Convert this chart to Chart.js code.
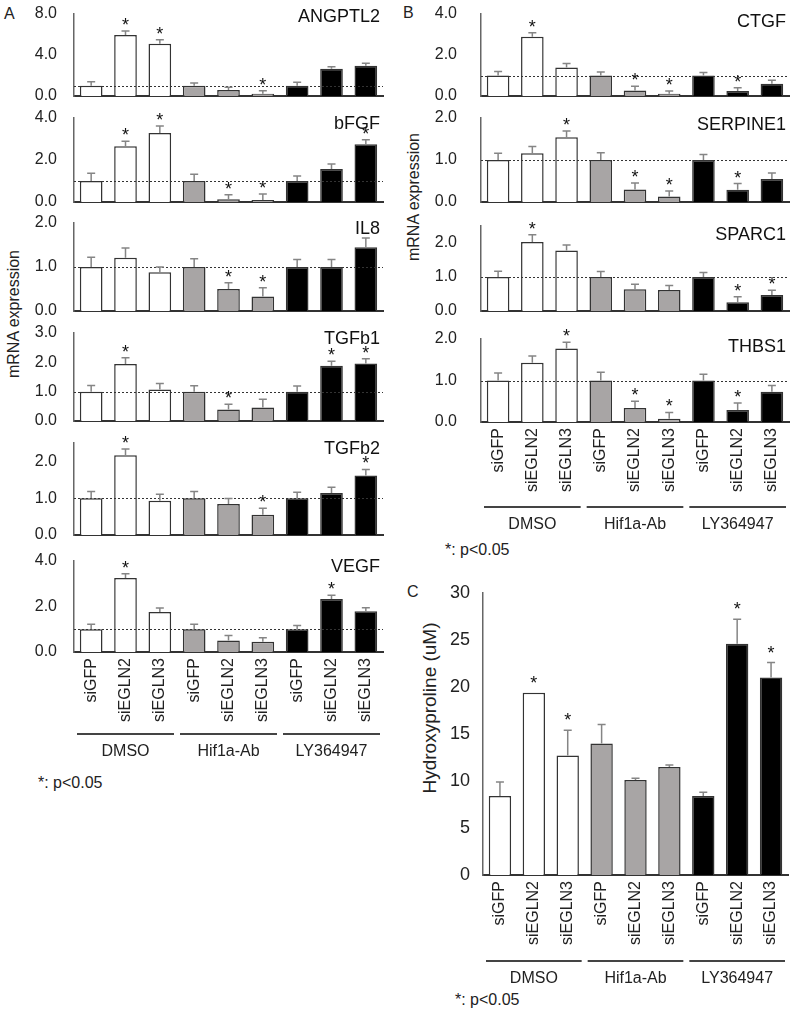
<!DOCTYPE html>
<html lang="en">
<head>
<meta charset="UTF-8">
<title>mRNA expression / Hydroxyproline</title>
<script src="https://cdn.jsdelivr.net/npm/chart.js"></script>
<style>
  body { margin: 0; background: #fff; }
  #page { position: relative; width: 800px; height: 1015px; overflow: hidden;
          font-family: "Liberation Sans", Arial, sans-serif; color: #222; }
  #page canvas { position: absolute; }
  .txt { position: absolute; font-size: 16px; line-height: 18px; white-space: nowrap; }
  .rot { transform: translate(-50%, -50%) rotate(-90deg); }
</style>
</head>
<body>
<div id="page">
  <div class="txt" style="left:4px;top:5px">A</div>
  <div class="txt" style="left:403px;top:4px">B</div>
  <div class="txt" style="left:407px;top:583px">C</div>
  <div class="txt rot" style="left:14px;top:314px">mRNA expression</div>
  <div class="txt rot" style="left:414px;top:197px">mRNA expression</div>
  <div class="txt rot" style="left:430px;top:708px;font-size:19px;line-height:22px">Hydroxyproline (uM)</div>
  <div class="txt" style="left:38px;top:774px">*: p&lt;0.05</div>
  <div class="txt" style="left:445px;top:541px">*: p&lt;0.05</div>
  <div class="txt" style="left:455px;top:991px">*: p&lt;0.05</div>
</div>

<script>
// conditions and treatment groups
const conditions = ['siGFP', 'siEGLN2', 'siEGLN3', 'siGFP', 'siEGLN2', 'siEGLN3', 'siGFP', 'siEGLN2', 'siEGLN3'];
const groups = ['DMSO', 'Hif1a-Ab', 'LY364947'];
const barFill = ['#ffffff', '#ffffff', '#ffffff', '#a8a5a5', '#a8a5a5', '#a8a5a5', '#000000', '#000000', '#000000'];

// panel A (mean, upper SD, significance)
const ANGPTL2 = [1.0, 5.95, 5.1, 1.0, 0.59, 0.23, 1.0, 2.67, 2.96];
const ANGPTL2_SD = [0.4, 0.4, 0.4, 0.27, 0.26, 0.29, 0.33, 0.19, 0.23];
const ANGPTL2_SIG = [0, 1, 1, 0, 0, 1, 0, 0, 0];

const bFGF = [1.0, 2.65, 3.29, 1.0, 0.13, 0.1, 1.0, 1.57, 2.75];
const bFGF_SD = [0.37, 0.24, 0.33, 0.32, 0.22, 0.28, 0.24, 0.24, 0.22];
const bFGF_SIG = [0, 1, 1, 0, 1, 1, 0, 0, 1];

const IL8 = [1.0, 1.21, 0.88, 1.0, 0.5, 0.33, 1.0, 1.0, 1.45];
const IL8_SD = [0.22, 0.22, 0.12, 0.19, 0.14, 0.2, 0.17, 0.17, 0.21];
const IL8_SIG = [0, 0, 0, 0, 1, 1, 0, 0, 0];

const TGFb1 = [1.0, 1.94, 1.07, 1.0, 0.39, 0.46, 1.0, 1.88, 1.96];
const TGFb1_SD = [0.21, 0.22, 0.21, 0.2, 0.18, 0.28, 0.19, 0.16, 0.16];
const TGFb1_SIG = [0, 1, 0, 0, 1, 0, 0, 1, 1];

const TGFb2 = [1.0, 2.17, 0.93, 1.0, 0.84, 0.55, 1.0, 1.14, 1.62];
const TGFb2_SD = [0.18, 0.17, 0.18, 0.18, 0.15, 0.18, 0.16, 0.16, 0.16];
const TGFb2_SIG = [0, 1, 0, 0, 0, 1, 0, 0, 1];

const VEGF = [1.0, 3.25, 1.76, 1.0, 0.51, 0.45, 1.0, 2.33, 1.79];
const VEGF_SD = [0.22, 0.19, 0.17, 0.22, 0.21, 0.18, 0.17, 0.16, 0.16];
const VEGF_SIG = [0, 1, 0, 0, 0, 0, 0, 1, 0];

// panel B
const CTGF = [1.0, 2.89, 1.39, 1.0, 0.27, 0.11, 1.0, 0.24, 0.6];
const CTGF_SD = [0.19, 0.19, 0.19, 0.17, 0.2, 0.13, 0.15, 0.16, 0.17];
const CTGF_SIG = [0, 1, 0, 0, 1, 1, 0, 1, 0];

const SERPINE1 = [1.0, 1.16, 1.54, 1.0, 0.3, 0.13, 1.0, 0.29, 0.55];
const SERPINE1_SD = [0.16, 0.16, 0.15, 0.17, 0.15, 0.13, 0.13, 0.15, 0.14];
const SERPINE1_SIG = [0, 0, 1, 0, 1, 1, 0, 1, 0];

const SPARC1 = [1.0, 2.03, 1.78, 1.0, 0.64, 0.62, 1.0, 0.26, 0.47];
const SPARC1_SD = [0.17, 0.21, 0.16, 0.16, 0.15, 0.13, 0.13, 0.16, 0.14];
const SPARC1_SIG = [0, 1, 0, 0, 0, 0, 0, 1, 1];

const THBS1 = [1.0, 1.43, 1.77, 1.0, 0.34, 0.08, 1.0, 0.29, 0.73];
const THBS1_SD = [0.18, 0.16, 0.15, 0.2, 0.16, 0.15, 0.15, 0.17, 0.15];
const THBS1_SIG = [0, 0, 1, 0, 1, 1, 0, 1, 0];

// panel C
const hydroxyproline = [8.4, 19.4, 12.7, 14.0, 10.1, 11.5, 8.4, 24.6, 21.0];
const hydroxyproline_SD = [1.5, 0, 2.7, 2.0, 0.2, 0.2, 0.4, 2.6, 1.6];
const hydroxyproline_SIG = [0, 1, 1, 0, 0, 0, 0, 1, 1];

const FONT = '"Liberation Sans", Arial, sans-serif';

// error bars, stars, dotted 1.0 line, gene name, group bars
const extras = {
    id: 'extras',
    afterDatasetsDraw(chart, args, o) {
        const ctx = chart.ctx, ys = chart.scales.y, a = chart.chartArea;
        const meta = chart.getDatasetMeta(0);
        ctx.save();
        if (o.refLine != null) {
            const y = Math.round(ys.getPixelForValue(o.refLine)) + 0.5;
            ctx.strokeStyle = '#333';
            ctx.lineWidth = 1;
            ctx.setLineDash([2, 2]);
            ctx.beginPath();
            ctx.moveTo(a.left, y);
            ctx.lineTo(a.right, y);
            ctx.stroke();
            ctx.setLineDash([]);
        }
        meta.data.forEach((bar, i) => {
            const v = o.values[i], e = o.errors[i];
            const yTop = ys.getPixelForValue(v + e);
            if (e > 0) {
                ctx.strokeStyle = '#858585';
                ctx.lineWidth = 1.5;
                ctx.beginPath();
                ctx.moveTo(bar.x, bar.y);
                ctx.lineTo(bar.x, yTop);
                ctx.moveTo(bar.x - 4, yTop);
                ctx.lineTo(bar.x + 4, yTop);
                ctx.stroke();
            }
            if (o.sig[i]) {
                ctx.fillStyle = '#111';
                ctx.font = '18px ' + FONT;
                ctx.textAlign = 'center';
                ctx.textBaseline = 'alphabetic';
                ctx.fillText('*', bar.x, yTop - o.starGap + 10);
            }
        });
        if (o.title) {
            ctx.fillStyle = '#111';
            ctx.font = '18px ' + FONT;
            ctx.textAlign = 'right';
            ctx.textBaseline = 'middle';
            ctx.fillText(o.title, a.right - 3, a.top + (o.titleDy ?? 6));
        }
        ctx.restore();
    },
    afterDraw(chart, args, o) {
        if (!o.groupLines) return;
        const ctx = chart.ctx, xs = chart.scales.x, a = chart.chartArea;
        const cw = (a.right - a.left) / conditions.length;
        ctx.save();
        groups.forEach((g, k) => {
            const x0 = xs.getPixelForValue(k * 3) - cw / 2 + 3;
            const x1 = xs.getPixelForValue(k * 3 + 2) + cw / 2 - 3;
            const y = a.bottom + o.groupLines;
            ctx.strokeStyle = '#444';
            ctx.lineWidth = 2;
            ctx.beginPath();
            ctx.moveTo(x0, y);
            ctx.lineTo(x1, y);
            ctx.stroke();
            ctx.fillStyle = '#222';
            ctx.font = '16px ' + FONT;
            ctx.textAlign = 'center';
            ctx.textBaseline = 'middle';
            ctx.fillText(g, (x0 + x1) / 2, a.bottom + o.groupText);
        });
        ctx.restore();
    }
};

const page = document.getElementById('page');
const panelA = { x: 0, w: 400, left: 74, right: 383 };
const panelB = { x: 400, w: 400, left: 481, right: 789 };
const panelC = { x: 400, w: 400, left: 483, right: 788 };

function addChart(p) {
    const cv = document.createElement('canvas');
    const top = Math.max(0, p.top - 18);
    const bottom = p.labels ? p.bottom + 140 : p.bottom + 4;
    cv.width = p.panel.w;
    cv.height = bottom - top;
    cv.style.left = p.panel.x + 'px';
    cv.style.top = top + 'px';
    page.appendChild(cv);
    const big = p.fontSize || 16;
    new Chart(cv, {
        type: 'bar',
        data: {
            labels: conditions,
            datasets: [{
                data: p.values,
                backgroundColor: barFill,
                borderColor: '#333',
                borderWidth: 1.5,
                barPercentage: 0.66,
                categoryPercentage: 1
            }]
        },
        options: {
            responsive: false,
            animation: false,
            layout: { padding: { top: p.top - top, right: p.panel.x + p.panel.w - p.panel.right, left: 0, bottom: p.labels ? 0 : 4 } },
            plugins: {
                legend: { display: false },
                tooltip: { enabled: false },
                extras: {
                    values: p.values, errors: p.errors, sig: p.sig,
                    refLine: p.refLine, title: p.title, titleDy: p.titleDy,
                    starGap: p.starGap || 10,
                    groupLines: p.groupLines, groupText: p.groupText
                }
            },
            scales: {
                x: {
                    grid: { display: false, drawTicks: false },
                    border: { color: '#333', width: 2 },
                    ticks: {
                        display: !!p.labels, autoSkip: false,
                        minRotation: 90, maxRotation: 90, padding: 6,
                        color: '#222', font: { family: FONT, size: 16 }
                    },
                    afterFit: s => {
                        s.height = p.labels ? bottom - p.bottom : 0;
                        s.paddingLeft = 0; s.paddingRight = 0;
                    }
                },
                y: {
                    min: 0, max: p.max,
                    grid: { display: false, drawTicks: false },
                    border: { color: '#666', width: 1.5 },
                    ticks: {
                        padding: p.tickPad, color: '#222',
                        font: { family: FONT, size: big },
                        callback: v => p.decimals ? v.toFixed(1) : String(v)
                    },
                    afterBuildTicks: s => { s.ticks = p.ticks.map(v => ({ value: v })); },
                    afterFit: s => {
                        s.width = p.panel.left - p.panel.x;
                        s.paddingTop = 0; s.paddingBottom = 0;
                    }
                }
            }
        },
        plugins: [extras]
    });
}

// panel A
addChart({ panel: panelA, top: 14, bottom: 96, max: 8, ticks: [0, 4, 8], decimals: true, tickPad: 17, refLine: 1,
    title: 'ANGPTL2', titleDy: 3, values: ANGPTL2, errors: ANGPTL2_SD, sig: ANGPTL2_SIG });
addChart({ panel: panelA, top: 118, bottom: 202, max: 4, ticks: [0, 2, 4], decimals: true, tickPad: 17, refLine: 1,
    title: 'bFGF', values: bFGF, errors: bFGF_SD, sig: bFGF_SIG });
addChart({ panel: panelA, top: 223, bottom: 311, max: 2, ticks: [0, 1, 2], decimals: true, tickPad: 17, refLine: 1,
    title: 'IL8', values: IL8, errors: IL8_SD, sig: IL8_SIG });
addChart({ panel: panelA, top: 333, bottom: 421, max: 3, ticks: [0, 1, 2, 3], decimals: true, tickPad: 17, refLine: 1,
    title: 'TGFb1', values: TGFb1, errors: TGFb1_SD, sig: TGFb1_SIG });
addChart({ panel: panelA, top: 443, bottom: 535, max: 2.5, ticks: [0, 1, 2], decimals: true, tickPad: 17, refLine: 1,
    title: 'TGFb2', values: TGFb2, errors: TGFb2_SD, sig: TGFb2_SIG });
addChart({ panel: panelA, top: 561, bottom: 652, max: 4, ticks: [0, 2, 4], decimals: true, tickPad: 17, refLine: 1,
    title: 'VEGF', values: VEGF, errors: VEGF_SD, sig: VEGF_SIG, labels: true, groupLines: 82, groupText: 100 });

// panel B
addChart({ panel: panelB, top: 14, bottom: 96, max: 4, ticks: [0, 2, 4], decimals: true, tickPad: 24, refLine: 1,
    title: 'CTGF', titleDy: 8, values: CTGF, errors: CTGF_SD, sig: CTGF_SIG });
addChart({ panel: panelB, top: 118, bottom: 202, max: 2, ticks: [0, 1, 2], decimals: true, tickPad: 24, refLine: 1,
    title: 'SERPINE1', titleDy: 7, values: SERPINE1, errors: SERPINE1_SD, sig: SERPINE1_SIG });
addChart({ panel: panelB, top: 226, bottom: 311, max: 2.5, ticks: [0, 1, 2], decimals: true, tickPad: 24, refLine: 1,
    title: 'SPARC1', titleDy: 9, values: SPARC1, errors: SPARC1_SD, sig: SPARC1_SIG });
addChart({ panel: panelB, top: 339, bottom: 422, max: 2, ticks: [0, 1, 2], decimals: true, tickPad: 24, refLine: 1,
    title: 'THBS1', titleDy: 8, values: THBS1, errors: THBS1_SD, sig: THBS1_SIG, labels: true, groupLines: 85, groupText: 103 });

// panel C
addChart({ panel: panelC, top: 593, bottom: 875, max: 30, ticks: [0, 5, 10, 15, 20, 25, 30], tickPad: 13, fontSize: 18,
    starGap: 14, values: hydroxyproline, errors: hydroxyproline_SD, sig: hydroxyproline_SIG,
    labels: true, groupLines: 86, groupText: 104 });
</script>
</body>
</html>
